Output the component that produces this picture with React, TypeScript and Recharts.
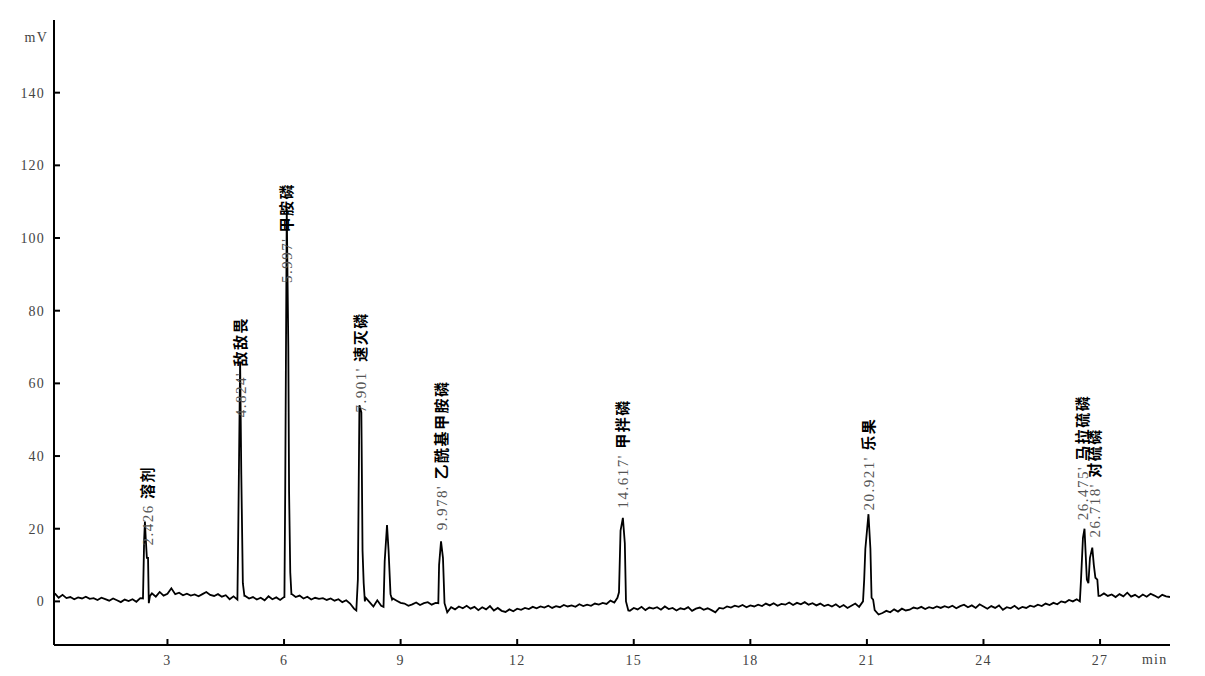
import React from 'react';
import { ComposedChart, Line, Scatter, XAxis, YAxis } from 'recharts';

// baseline samples every 0.1 min starting at 0.1 min (mV)
const baseStart = 0.1;
const baseStep = 0.1;
const baseline: number[] = [
  2.2, 1.0, 1.8, 0.9, 1.2, 0.6, 1.1, 0.8, 1.3, 0.7,
  0.9, 0.4, 1.0, 0.6, 0.2, 0.8, 0.3, -0.2, 0.5, 0.1,
  0.6, -0.1, 0.9, 0.4, 1.0, 2.2, 1.3, 2.6, 1.6, 2.1,
  3.6, 2.0, 2.4, 1.7, 2.1, 1.6, 1.9, 1.4, 2.0, 2.6,
  1.8, 1.5, 2.0, 1.3, 1.7, 0.6, 1.4, 0.3, 1.0, 1.5,
  0.8, 1.2, 0.5, 1.0, 0.3, 1.4, 0.6, 1.1, 0.4, 1.2,
  1.0, 2.0, 1.2, 1.6, 0.8, 1.3, 0.5, 1.0, 0.7, 0.9,
  0.4, 0.8, 0.2, 0.6, -0.2, 0.3, -0.6, -2.0, -1.0, 0.0,
  1.0, -0.2, -1.4, 0.3, -1.2, 0.0, 0.0, 0.8, 0.2, -0.4,
  -0.6, -1.2, -0.8, -0.3, -1.0, -0.5, -0.2, -0.9, -0.4, 0.0,
  -1.0, -2.8, -1.6, -2.2, -1.4, -1.9, -1.2, -2.0, -1.5, -2.4,
  -1.6, -2.2, -1.3, -2.5, -1.8, -2.6, -2.9, -2.2, -2.7, -2.0,
  -2.3, -1.8, -2.1, -1.5, -1.9, -1.4, -1.7, -1.2, -1.8, -1.3,
  -1.6, -1.0, -1.4, -1.1, -1.5, -0.8, -1.3, -0.9, -1.2, -0.6,
  -0.9, -0.4, -0.7, 0.2, -0.3, 0.0, 0.0, 0.0, -2.6, -1.8,
  -2.2, -1.5, -2.4, -1.7, -2.0, -1.6, -2.3, -1.4, -2.1, -1.8,
  -2.5, -1.9, -2.2, -1.6, -2.6, -2.0, -1.7, -2.3, -1.9, -2.4,
  -3.0, -1.8, -2.0, -1.4, -1.7, -1.2, -1.5, -1.0, -1.6, -1.1,
  -1.4, -0.9, -1.3, -0.6, -1.1, -0.5, -1.2, -0.7, -0.9, -0.3,
  -1.0, -0.4, -0.8, -0.2, -0.9, -0.5, -1.1, -0.6, -1.3, -0.9,
  -1.4, -0.8, -1.6, -1.0, -1.8, -1.2, -0.6, -1.5, 0.0, 0.0,
  0.0, -2.4, -3.6, -3.2, -2.6, -3.0, -2.2, -2.8, -2.0, -2.5,
  -2.3, -1.7, -2.0, -1.5, -2.1, -1.6, -1.9, -1.4, -1.8, -1.3,
  -1.7, -1.2, -1.9, -1.3, -0.9, -1.6, -1.1, -1.8, -0.8, -1.4,
  -2.0, -1.3, -1.8, -1.1, -2.3, -1.6, -1.9, -1.2, -2.1, -1.5,
  -1.8, -1.2, -1.5, -0.9, -1.3, -0.6, -1.0, -0.4, -0.8, 0.0,
  -0.3, 0.4, 0.0, 0.6, 0.0, 0.0, 0.0, 0.0, 0.0, 1.5,
  2.2, 1.5, 1.9, 1.2, 2.0, 1.4, 2.4, 1.3, 1.8, 1.1,
  1.9, 1.3, 2.1, 1.6, 1.0, 1.8, 1.4, 1.2,
];

// peak profiles: [time (min), signal (mV)]
const peakSolvent: [number, number][] = [[2.37, 0.8], [2.40, 17], [2.42, 22], [2.44, 17.5], [2.47, 12], [2.50, 12], [2.52, -0.5], [2.55, 1.5]];
const peakDichlorvos: [number, number][] = [[4.80, 0.5], [4.82, 18], [4.87, 66], [4.90, 35], [4.94, 5], [4.98, 1.5]];
const peakMethamidophos: [number, number][] = [[6.01, 1], [6.03, 30], [6.07, 108], [6.11, 70], [6.13, 30], [6.16, 8], [6.19, 2]];
const peakMevinphos: [number, number][] = [[7.86, -2.5], [7.90, 6], [7.94, 54], [7.99, 52], [8.02, 14], [8.05, 5], [8.08, 0]];
const peakUnknown: [number, number][] = [[8.56, -1.5], [8.59, 11], [8.65, 21], [8.69, 14], [8.74, 2], [8.78, 0.5]];
const peakAcephate: [number, number][] = [[9.97, -0.5], [9.99, 10], [10.04, 16.5], [10.09, 12], [10.13, -0.5], [10.2, -3]];
const peakPhorate: [number, number][] = [[14.58, 1], [14.62, 2.5], [14.66, 19.5], [14.72, 23], [14.77, 16], [14.80, 0], [14.86, -2.5]];
const peakDimethoate: [number, number][] = [[20.90, 0], [20.93, 6], [20.96, 14.5], [21.04, 24], [21.09, 14.5], [21.12, 1], [21.16, 0.5]];
const peakMalaParathion: [number, number][] = [[26.48, 0], [26.51, 6], [26.56, 17.5], [26.60, 20], [26.66, 6], [26.70, 5], [26.74, 12], [26.80, 14.8], [26.84, 10], [26.88, 6.5], [26.93, 6], [26.96, 1.5]];

const peaks = [peakSolvent, peakDichlorvos, peakMethamidophos, peakMevinphos, peakUnknown, peakAcephate, peakPhorate, peakDimethoate, peakMalaParathion];

// peak annotations
const labelTimes = [2.49, 4.89, 6.07, 7.99, 10.07, 14.73, 21.05, 26.56, 26.86];
const labelLevels = [15.4, 50.7, 87.6, 52, 19.6, 25.6, 25, 22.3, 17.6];
const labelTimesText = ['2.426', "4.824'", "5.997'", "7.901'", "9.978'", "14.617'", "20.921'", "26.475'", "26.718'"];
const labelNames = ['溶剂', '敌敌畏', '甲胺磷', '速灭磷', '乙酰基甲胺磷', '甲拌磷', '乐果', '马拉硫磷', '对硫磷'];

const xTicks = [3, 6, 9, 12, 15, 18, 21, 24, 27];
const yTicks = [0, 20, 40, 60, 80, 100, 120, 140];

const trace = (() => {
  const pts: { t: number; v: number }[] = [];
  baseline.forEach((v, i) => {
    const t = Math.round((baseStart + i * baseStep) * 100) / 100;
    const inside = peaks.some((p) => t >= p[0][0] && t <= p[p.length - 1][0]);
    if (!inside) pts.push({ t, v });
  });
  peaks.forEach((p) => p.forEach(([t, v]) => pts.push({ t, v })));
  pts.sort((a, b) => a.t - b.t);
  return pts;
})();

const labelData = labelTimes.map((t, i) => ({ t, v: labelLevels[i], rt: labelTimesText[i], name: labelNames[i] }));

const FONT = "'Liberation Serif', 'Noto Sans CJK SC', serif";

const YTick = (props: any) => {
  const { x, y, payload } = props;
  return (
    <g>
      <line x1={x + 9} x2={x + 15} y1={y} y2={y} stroke="#000" strokeWidth={2} />
      <text x={x} y={y} dy={5} textAnchor="end" fontFamily={FONT} fontSize={14} letterSpacing={1.2} fill="#444">
        {payload.value}
      </text>
    </g>
  );
};

const XTick = (props: any) => {
  const { x, y, payload } = props;
  return (
    <g>
      <line x1={x} x2={x} y1={y - 9} y2={y - 15} stroke="#000" strokeWidth={2} />
      <text x={x} y={y} dy={11} textAnchor="middle" fontFamily={FONT} fontSize={14} letterSpacing={1.2} fill="#444">
        {payload.value}
      </text>
    </g>
  );
};

const PeakLabel = (props: any) => {
  const { cx, cy, payload } = props;
  if (cx == null || cy == null) return <g />;
  return (
    <text
      x={cx}
      y={cy}
      transform={`rotate(-90, ${cx}, ${cy})`}
      textAnchor="start"
      dominantBaseline="central"
      fontFamily={FONT}
      fontSize={15}
      letterSpacing={1.5}
    >
      <tspan fill="#555">{payload.rt} </tspan>
      <tspan fill="#000" fontWeight={700}>{payload.name}</tspan>
    </text>
  );
};

export default function App() {
  return (
    <div style={{ position: 'absolute', left: 0, top: 0, width: 1205, height: 676, background: '#fff' }}>
      <ComposedChart width={1205} height={676} data={trace} margin={{ top: 20, right: 35, bottom: 0, left: 0 }}>
        <XAxis
          type="number"
          dataKey="t"
          domain={[0.08, 28.8]}
          ticks={xTicks}
          allowDataOverflow
          height={31}
          tickSize={0}
          tickMargin={9}
          tickLine={false}
          axisLine={{ stroke: '#000', strokeWidth: 2 }}
          tick={<XTick />}
        />
        <YAxis
          type="number"
          domain={[-12, 160]}
          ticks={yTicks}
          allowDataOverflow
          width={54}
          tickSize={0}
          tickMargin={9}
          tickLine={false}
          axisLine={{ stroke: '#000', strokeWidth: 2 }}
          tick={<YTick />}
        />
        <Line
          type="linear"
          dataKey="v"
          stroke="#000"
          strokeWidth={1.8}
          dot={false}
          isAnimationActive={false}
        />
        <Scatter data={labelData} dataKey="v" shape={<PeakLabel />} isAnimationActive={false} />
      </ComposedChart>
      <div style={{ position: 'absolute', left: 0, top: 29, width: 48, textAlign: 'right', fontFamily: FONT, fontSize: 14, letterSpacing: 1.2, color: '#444', lineHeight: '18px' }}>
        mV
      </div>
      <div style={{ position: 'absolute', left: 1142, top: 651, fontFamily: FONT, fontSize: 14, letterSpacing: 1.2, color: '#444', lineHeight: '18px' }}>
        min
      </div>
    </div>
  );
}
